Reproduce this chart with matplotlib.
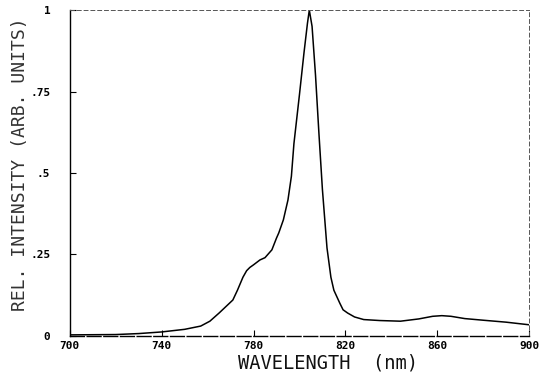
#Emission spectrum
import numpy as np
import matplotlib.pyplot as plt

#Data
wavelength = [700, 720, 730, 740, 750, 757, 761, 765, 768, 771, 773, 775.4, 777, 778.4,
              780, 782.8, 785, 788, 790, 791, 793, 795, 796.5, 797.6, 800, 802,
              803.5, 804.3, 805.5, 807, 808.5, 810, 811, 812, 813.7, 815, 817.6,
              819, 821, 824, 828, 835, 844, 852, 858, 862, 866, 872, 880, 890, 900]
intensity = [0.003, 0.004, 0.007, 0.012, 0.02, 0.03, 0.045, 0.07, 0.09, 0.11, 0.14,
             0.18, 0.20, 0.21, 0.218, 0.233, 0.24, 0.264, 0.30, 0.316, 0.356, 0.417,
             0.49, 0.59, 0.74, 0.87, 0.96, 1.0, 0.95, 0.80, 0.62, 0.45, 0.36, 0.27,
             0.18, 0.14, 0.10, 0.08, 0.07, 0.058, 0.05, 0.047, 0.045, 0.052, 0.06,
             0.062, 0.06, 0.053, 0.048, 0.042, 0.034]
xticks = [700, 740, 780, 820, 860, 900]
yticks = [0, 0.25, 0.5, 0.75, 1]
ytick_labels = ["0", ".25", ".5", ".75", "1"]

fig = plt.figure(figsize=(5.54, 3.74), dpi=100)
ax = fig.add_axes([0.126, 0.102, 0.829, 0.871])
ax.plot(wavelength, intensity, color="black", lw=1.1)

ax.set_xlim(700, 900)
ax.set_ylim(0, 1)
ax.set_xticks(xticks)
ax.set_xticklabels([str(t) for t in xticks], family="DejaVu Sans Mono",
                   fontsize=8, fontweight="bold")
ax.set_yticks(yticks)
ax.set_yticklabels(ytick_labels, family="DejaVu Sans Mono", fontsize=8,
                   fontweight="bold")
ax.tick_params(axis="x", direction="in", length=4, width=0.8, pad=4)
ax.tick_params(axis="y", direction="in", length=4, width=0.8, pad=14)

ax.spines["left"].set_linewidth(1.0)
ax.spines["bottom"].set_linewidth(1.0)
ax.spines["bottom"].set_linestyle((0, (10, 2)))
for s in ["top", "right"]:
    ax.spines[s].set_linestyle((0, (4, 3)))
    ax.spines[s].set_linewidth(0.7)
    ax.spines[s].set_color("#555555")

#axis titles placed by hand, like the plotter output
fig.text(0.592, 0.029, "WAVELENGTH  (nm)", family="DejaVu Sans Mono",
         fontsize=13.5, color="#111111", ha="center", va="center")
fig.text(0.036, 0.561, "REL. INTENSITY (ARB. UNITS)", family="DejaVu Sans Mono",
         fontsize=13, color="#333333", ha="center", va="center", rotation=90)

fig.savefig("out.png", dpi=100)
